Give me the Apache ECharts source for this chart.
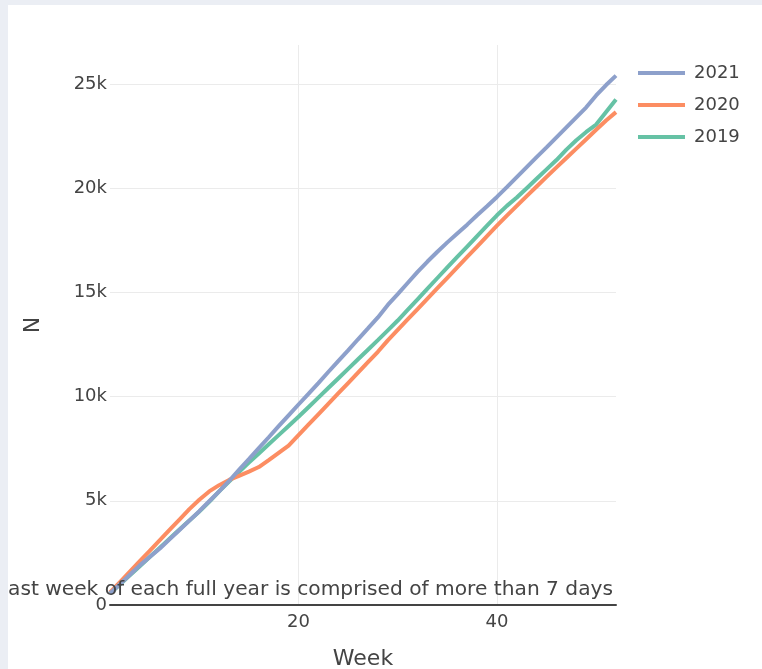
<!DOCTYPE html>
<html>
<head>
<meta charset="utf-8">
<script src="https://cdn.jsdelivr.net/npm/echarts@6/dist/echarts.min.js"></script>
<style>
html,body{margin:0;padding:0;background:#fff;}
#chart{width:762px;height:669px;}
</style>
</head>
<body>
<div id="chart"></div>
<script>
const weeks = [1,2,3,4,5,6,7,8,9,10,11,12,13,14,15,16,17,18,19,20,21,22,23,24,25,26,27,28,29,30,31,32,33,34,35,36,37,38,39,40,41,42,43,44,45,46,47,48,49,50,51,52];
const seriesNames = ['2021','2020','2019'];
const values2021 = [550,1000,1450,1900,2300,2700,3150,3600,4050,4500,4980,5450,5950,6480,7000,7530,8050,8580,9100,9620,10130,10650,11180,11700,12220,12750,13270,13800,14400,14920,15450,15980,16480,16950,17400,17830,18250,18700,19130,19580,20050,20530,21010,21490,21960,22440,22920,23400,23880,24450,24950,25400];
const values2020 = [600,1100,1600,2100,2600,3100,3600,4100,4600,5050,5450,5750,6000,6200,6400,6620,6950,7300,7650,8150,8650,9150,9650,10150,10650,11150,11650,12150,12700,13200,13700,14200,14700,15200,15700,16200,16700,17200,17700,18200,18680,19150,19620,20080,20540,21000,21450,21900,22350,22800,23250,23650];
const values2019 = [550,980,1420,1860,2300,2740,3180,3620,4050,4480,4950,5450,5920,6380,6830,7270,7710,8150,8590,9030,9490,9950,10410,10870,11330,11790,12250,12710,13180,13650,14160,14670,15180,15690,16200,16700,17200,17700,18200,18700,19150,19550,20000,20450,20900,21350,21850,22300,22700,23050,23650,24250];
const xTickValues = [20,40];
const yTickLabels = ['0','5k','10k','15k','20k','25k'];
const annotationText = 'Last week of each full year is comprised of more than 7 days';

const colors = {'2021':'#8da0cb','2020':'#fc8d62','2019':'#66c2a5'};
const valuesByName = {'2021':values2021,'2020':values2020,'2019':values2019};
const FONT = 'DejaVu Sans, Verdana, sans-serif';

function pairs(vals){ return weeks.map((w,i)=>[w, vals[i]]); }

const drawOrder = ['2019','2020','2021'];
const series = drawOrder.map(name => ({
  name: name,
  type: 'line',
  data: pairs(valuesByName[name]),
  showSymbol: false,
  symbol: 'none',
  lineStyle: {color: colors[name], width: 4},
  itemStyle: {color: colors[name]},
  emphasis: {disabled: true},
  animation: false
}));

const chart = echarts.init(document.getElementById('chart'), null, {renderer:'canvas'});
chart.setOption({
  backgroundColor: '#ffffff',
  animation: false,
  textStyle: {fontFamily: FONT},
  grid: {left: 110, right: 146, top: 45, bottom: 64, containLabel: false, outerBoundsMode: 'none'},
  legend: {
    orient: 'vertical',
    left: 633,
    top: 57,
    data: seriesNames,
    icon: 'rect',
    itemWidth: 47,
    itemHeight: 4,
    itemGap: 10,
    textStyle: {color: '#444', fontSize: 18, fontFamily: FONT, lineHeight: 22, padding: [0,0,0,4]}
  },
  xAxis: {
    type: 'value',
    min: 1,
    max: 52,
    name: 'Week',
    nameLocation: 'middle',
    nameGap: 43,
    nameTextStyle: {color: '#444', fontSize: 22, fontFamily: FONT},
    axisLine: {show: true, onZero: true, lineStyle: {color: '#444', width: 2}},
    axisTick: {show: false, customValues: xTickValues},
    axisLabel: {color: '#444', fontSize: 18, fontFamily: FONT, margin: 8, customValues: xTickValues},
    splitLine: {show: true, lineStyle: {color: '#ebebeb', width: 1}}
  },
  yAxis: {
    type: 'value',
    min: 0,
    max: 26870,
    interval: 5000,
    name: 'N',
    nameLocation: 'middle',
    nameGap: 66,
    nameTextStyle: {color: '#444', fontSize: 22, fontFamily: FONT},
    axisLine: {show: false},
    axisTick: {show: false},
    axisLabel: {
      color: '#444', fontSize: 18, fontFamily: FONT, margin: 3, showMaxLabel: false,
      formatter: v => (v % 5000 === 0 && yTickLabels[v/5000] !== undefined) ? yTickLabels[v/5000] : ''
    },
    splitLine: {show: true, showMaxLine: false, lineStyle: {color: '#ebebeb', width: 1}}
  },
  graphic: [
    {type: 'text', right: 762-613, top: 580, z: 100,
     style: {text: annotationText, fill: '#444', font: '20.2px ' + FONT, textAlign: 'right'}},
    {type: 'rect', left: 0, top: 0, z: 200, shape: {x:0,y:0,width:762,height:5}, style: {fill: '#ebeef4'}},
    {type: 'rect', left: 0, top: 0, z: 200, shape: {x:0,y:0,width:8,height:669}, style: {fill: '#ebeef4'}}
  ],
  series: series
});
</script>
</body>
</html>
